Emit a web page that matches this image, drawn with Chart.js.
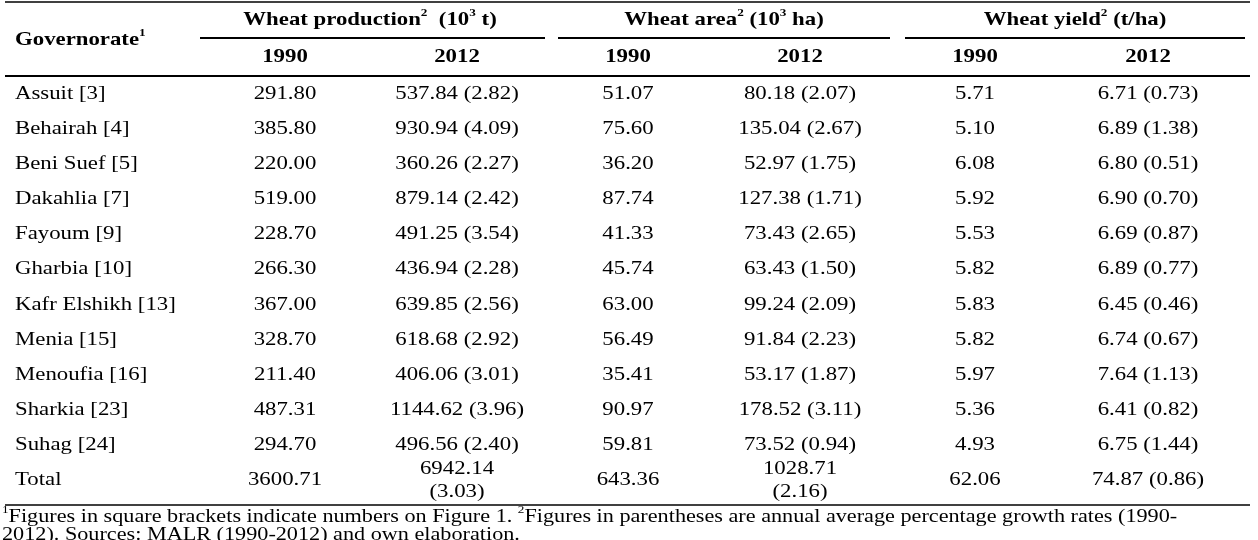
<!DOCTYPE html>
<html><head><meta charset="utf-8">
<script src="https://cdn.jsdelivr.net/npm/chart.js@4/dist/chart.umd.min.js"></script>
<style>html,body{margin:0;padding:0;background:#fff}#c{display:block}</style>
</head><body>
<div style="width:1258px;height:540px"><canvas id="c" width="1258" height="540"></canvas></div>
<script>
const governorates=["Assuit [3]","Behairah [4]","Beni Suef [5]","Dakahlia [7]","Fayoum [9]","Gharbia [10]","Kafr Elshikh [13]","Menia [15]","Menoufia [16]","Sharkia [23]","Suhag [24]","Total"];
const prod1990=["291.80","385.80","220.00","519.00","228.70","266.30","367.00","328.70","211.40","487.31","294.70","3600.71"];
const prod2012=["537.84 (2.82)","930.94 (4.09)","360.26 (2.27)","879.14 (2.42)","491.25 (3.54)","436.94 (2.28)","639.85 (2.56)","618.68 (2.92)","406.06 (3.01)","1144.62 (3.96)","496.56 (2.40)","6942.14\n(3.03)"];
const area1990=["51.07","75.60","36.20","87.74","41.33","45.74","63.00","56.49","35.41","90.97","59.81","643.36"];
const area2012=["80.18 (2.07)","135.04 (2.67)","52.97 (1.75)","127.38 (1.71)","73.43 (2.65)","63.43 (1.50)","99.24 (2.09)","91.84 (2.23)","53.17 (1.87)","178.52 (3.11)","73.52 (0.94)","1028.71\n(2.16)"];
const yield1990=["5.71","5.10","6.08","5.92","5.53","5.82","5.83","5.82","5.97","5.36","4.93","62.06"];
const yield2012=["6.71 (0.73)","6.89 (1.38)","6.80 (0.51)","6.90 (0.70)","6.69 (0.87)","6.89 (0.77)","6.45 (0.46)","6.74 (0.67)","7.64 (1.13)","6.41 (0.82)","6.75 (1.44)","74.87 (0.86)"];
const years=["1990","2012"];
const groupTitles=[[["Wheat production",0],["2",1],["  (10",0],["3",1],[" t)",0]],[["Wheat area",0],["2",1],[" (10",0],["3",1],[" ha)",0]],[["Wheat yield",0],["2",1],[" (t/ha)",0]]];
const footnote=[[["1",1],["Figures in square brackets indicate numbers on Figure 1. ",0],["2",1],["Figures in parentheses are annual average percentage growth rates (1990-",0]],[["2012). Sources: MALR (1990-2012) and own elaboration.",0]]];

const colX=[285,457,628,800,975,1148];
const groupX=[370,724,1075];
const groupSpan=[[200,545],[558,890],[905,1245]];
const cols=[prod1990,prod2012,area1990,area2012,yield1990,yield2012];
const F='"Liberation Serif","DejaVu Serif",serif';
const SX=1.2;

function runs(ctx,segs,x,y,size,bold,align){
  const f=(s,sup)=>(bold?'bold ':'')+(sup?Math.round(size*0.6):size)+'px '+F;
  let w=0;segs.forEach(([t,s])=>{ctx.font=f(t,s);w+=ctx.measureText(t).width*SX;});
  let cx=align==='center'?x-w/2:x;
  segs.forEach(([t,s])=>{ctx.font=f(t,s);ctx.textAlign='left';
    ctx.save();ctx.translate(cx,s?y-size*0.35:y);ctx.scale(SX,1);ctx.fillText(t,0,0);ctx.restore();
    cx+=ctx.measureText(t).width*SX;});
}
const tablePlugin={id:'tbl',afterDraw(chart){
  const ctx=chart.ctx,X=chart.scales.x,Y=chart.scales.y;
  const px=v=>X.getPixelForValue(v),py=v=>Y.getPixelForValue(v);
  ctx.save();ctx.fillStyle='#000';ctx.strokeStyle='#000';ctx.textBaseline='middle';
  const line=(x1,x2,y,w)=>{ctx.lineWidth=w;ctx.beginPath();ctx.moveTo(px(x1),py(y));ctx.lineTo(px(x2),py(y));ctx.stroke();};
  line(5,1250,2,1.5);
  groupSpan.forEach(s=>line(s[0],s[1],38,2));
  line(5,1250,76,2);line(5,1250,505,1.5);
  runs(ctx,[["Governorate",0],["1",1]],px(15),py(40),19,true,'left');
  groupTitles.forEach((g,i)=>runs(ctx,g,px(groupX[i]),py(20),19,true,'center'));
  colX.forEach((x,i)=>runs(ctx,[[years[i%2],0]],px(x),py(57),19,true,'center'));
  governorates.forEach((g,r)=>{
    const y=94+35.1*r;
    runs(ctx,[[g,0]],px(15),py(y),19,false,'left');
    cols.forEach((c,k)=>{
      const parts=c[r].split('\n');
      if(parts.length>1){parts.forEach((p,j)=>runs(ctx,[[p,0]],px(colX[k]),py(y-11+j*23),19,false,'center'));}
      else runs(ctx,[[c[r],0]],px(colX[k]),py(y),19,false,'center');
    });
  });
  footnote.forEach((l,i)=>runs(ctx,l,px(2),py(517+i*18),18.5,false,'left'));
  ctx.restore();
}};
new Chart(document.getElementById('c'),{type:'scatter',data:{datasets:[{data:[]}]},
 options:{responsive:false,animation:false,events:[],layout:{padding:0},
  plugins:{legend:{display:false},tooltip:{enabled:false}},
  scales:{x:{type:'linear',min:0,max:1258,display:false},y:{type:'linear',min:0,max:540,reverse:true,display:false}}},
 plugins:[tablePlugin]});
</script></body></html>
